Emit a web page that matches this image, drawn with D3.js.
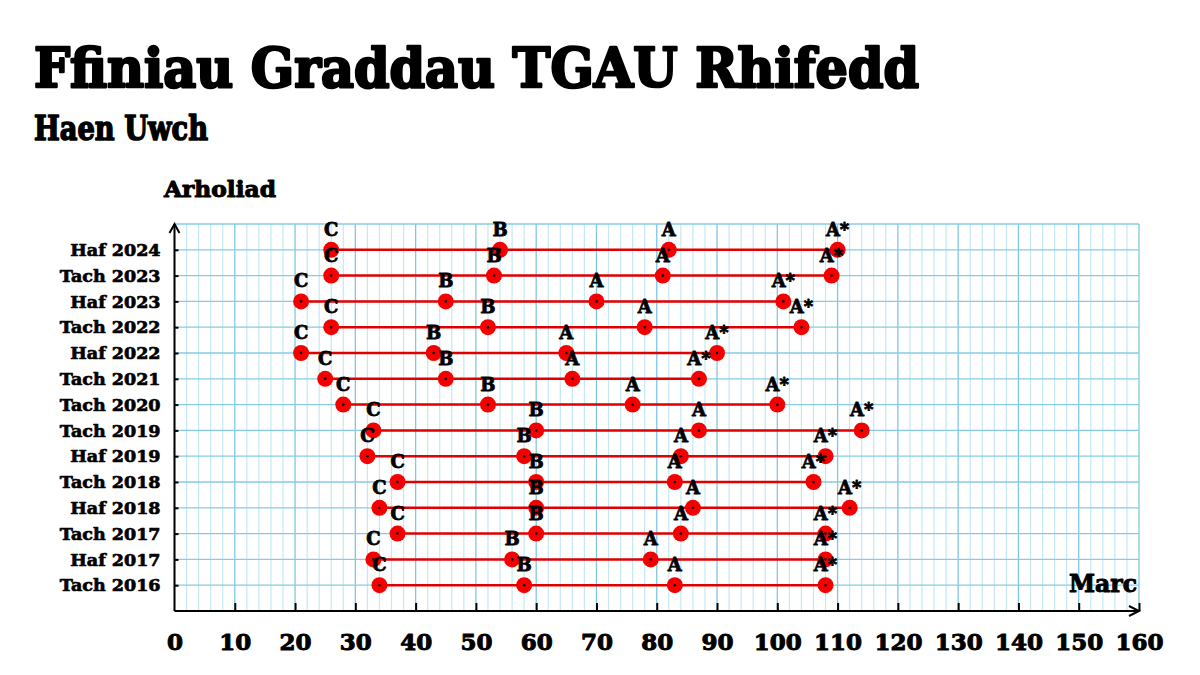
<!DOCTYPE html>
<html>
<head>
<meta charset="utf-8">
<script src="https://cdn.jsdelivr.net/npm/d3@7"></script>
<style>
  body { margin: 0; background: #fff; }
  text { font-family: "DejaVu Serif", serif; font-weight: bold; fill: #000; stroke: #000; stroke-linejoin: round; }
</style>
</head>
<body>
<div id="chart"></div>
<script>
// exam sittings, top row first
var exams = ["Haf 2024", "Tach 2023", "Haf 2023", "Tach 2022", "Haf 2022", "Tach 2021", "Tach 2020",
             "Tach 2019", "Haf 2019", "Tach 2018", "Haf 2018", "Tach 2017", "Haf 2017", "Tach 2016"];
var gradeC     = [26, 26, 21, 26, 21, 25, 28, 33, 32, 37, 34, 37, 33, 34];
var gradeB     = [54, 53, 45, 52, 43, 45, 52, 60, 58, 60, 60, 60, 56, 58];
var gradeA     = [82, 81, 70, 78, 65, 66, 76, 87, 84, 83, 86, 84, 79, 83];
var gradeAStar = [110, 109, 101, 104, 90, 87, 100, 114, 108, 106, 112, 108, 108, 108];
var gradeNames = ["C", "B", "A", "A*"];
var xTicks = d3.range(10, 161, 10);

var svgWidth = 1200;
var svgHeight = 675;

var svg = d3.select("#chart")
  .append("svg")
  .attr("width", svgWidth)
  .attr("height", svgHeight);

// scales - rows sit on whole numbers, 0 is the axis, 15 the top of the grid
var x = d3.scaleLinear().domain([0, 160]).range([174.5, 1139]);
var y = d3.scaleLinear().domain([0, 15]).range([611, 224]);
var rowY = function(i) { return y(exams.length - i); };

// build a row table from the arrays
var rows = exams.map(function(name, i) {
  return { name: name, i: i, marks: [gradeC[i], gradeB[i], gradeA[i], gradeAStar[i]] };
});

// titles
svg.append("text").attr("x", 34).attr("y", 87)
  .style("font-size", "54px").style("stroke-width", "2.6px")
  .attr("textLength", 885).attr("lengthAdjust", "spacingAndGlyphs")
  .text("Ffiniau Graddau TGAU Rhifedd");
svg.append("text").attr("x", 34).attr("y", 140)
  .style("font-size", "33px").style("stroke-width", "1.6px")
  .attr("textLength", 174).attr("lengthAdjust", "spacingAndGlyphs")
  .text("Haen Uwch");
svg.append("text").attr("x", 164).attr("y", 197)
  .style("font-size", "22px").style("stroke-width", "1px")
  .attr("textLength", 112).attr("lengthAdjust", "spacingAndGlyphs")
  .text("Arholiad");

// graph paper grid
var grid = svg.append("g");
grid.selectAll(".vgrid")
  .data(d3.range(0, 161, 2))
  .enter()
  .append("line")
  .attr("x1", d => x(d)).attr("x2", d => x(d))
  .attr("y1", y(15)).attr("y2", y(0))
  .attr("stroke", d => d % 10 === 0 ? "#7fc8e2" : "#c4e8f4")
  .attr("stroke-width", d => d % 10 === 0 ? 1.3 : 1.2);
grid.selectAll(".hgrid")
  .data(d3.range(0, 16))
  .enter()
  .append("line")
  .attr("x1", x(0)).attr("x2", x(160))
  .attr("y1", d => y(d)).attr("y2", d => y(d))
  .attr("stroke", "#86cbe3")
  .attr("stroke-width", 1.3);

// x axis
var bottomAxis = d3.axisBottom(x)
  .tickValues([0].concat(xTicks))
  .tickSizeInner(-8)
  .tickSizeOuter(0)
  .tickPadding(23);
var xAxis = svg.append("g")
  .attr("transform", `translate(0, ${y(0)})`)
  .call(bottomAxis);
xAxis.select(".domain").remove();
xAxis.selectAll("line").attr("stroke", "#000").attr("stroke-width", 2)
  .filter(d => d === 0).remove();
xAxis.selectAll("text")
  .style("font-family", "DejaVu Serif, serif")
  .style("font-weight", "bold")
  .style("font-size", "23px")
  .style("stroke-width", "1px")
  .attr("fill", "#000");

// y axis
var leftAxis = d3.axisLeft(y)
  .tickValues(d3.range(1, exams.length + 1))
  .tickFormat(d => exams[exams.length - d])
  .tickSizeInner(-4)
  .tickSizeOuter(0)
  .tickPadding(14);
var yAxis = svg.append("g")
  .attr("transform", `translate(${x(0)}, 0)`)
  .call(leftAxis);
yAxis.select(".domain").remove();
yAxis.selectAll("line").attr("stroke", "#000").attr("stroke-width", 2);
yAxis.selectAll("text")
  .style("font-family", "DejaVu Serif, serif")
  .style("font-weight", "bold")
  .style("font-size", "17.5px")
  .style("stroke-width", "0.7px")
  .attr("fill", "#000");

// axis lines with arrow heads
var axes = svg.append("g").attr("fill", "none").attr("stroke", "#000").attr("stroke-width", 2);
axes.append("path").attr("d", `M${x(0)},${y(0)}H${x(160)}`);
axes.append("path").attr("d", `M${x(160) - 10},${y(0) - 5}L${x(160)},${y(0)}L${x(160) - 10},${y(0) + 5}`);
axes.append("path").attr("d", `M${x(0)},${y(0)}V${y(15)}`);
axes.append("path").attr("d", `M${x(0) - 5},${y(15) + 9}L${x(0)},${y(15)}L${x(0) + 5},${y(15) + 9}`);

svg.append("text").attr("x", 1137).attr("y", 592)
  .attr("text-anchor", "end")
  .style("font-size", "24px").style("stroke-width", "1px")
  .attr("textLength", 68).attr("lengthAdjust", "spacingAndGlyphs")
  .text("Marc");

// range lines C -> A*
svg.append("g").selectAll("line")
  .data(rows)
  .enter()
  .append("line")
  .attr("x1", d => x(d.marks[0]))
  .attr("x2", d => x(d.marks[3]))
  .attr("y1", d => rowY(d.i))
  .attr("y2", d => rowY(d.i))
  .attr("stroke", "#e00000")
  .attr("stroke-width", 2.5);

// flatten to one marker per grade boundary
var points = [];
rows.forEach(function(r) {
  r.marks.forEach(function(m, k) {
    points.push({ i: r.i, mark: m, grade: gradeNames[k] });
  });
});

var markers = svg.append("g");
markers.selectAll("circle.pt")
  .data(points)
  .enter()
  .append("circle")
  .attr("cx", d => x(d.mark))
  .attr("cy", d => rowY(d.i))
  .attr("r", 8)
  .attr("fill", "#f40000");
markers.selectAll("circle.dot")
  .data(points)
  .enter()
  .append("circle")
  .attr("cx", d => x(d.mark))
  .attr("cy", d => rowY(d.i))
  .attr("r", 1.3)
  .attr("fill", "#000");

// grade labels above each marker
svg.append("g").selectAll("text")
  .data(points)
  .enter()
  .append("text")
  .attr("x", d => x(d.mark))
  .attr("y", d => rowY(d.i) - 14)
  .attr("text-anchor", "middle")
  .style("font-size", "18px")
  .style("stroke-width", "0.8px")
  .text(d => d.grade);
</script>
</body>
</html>
